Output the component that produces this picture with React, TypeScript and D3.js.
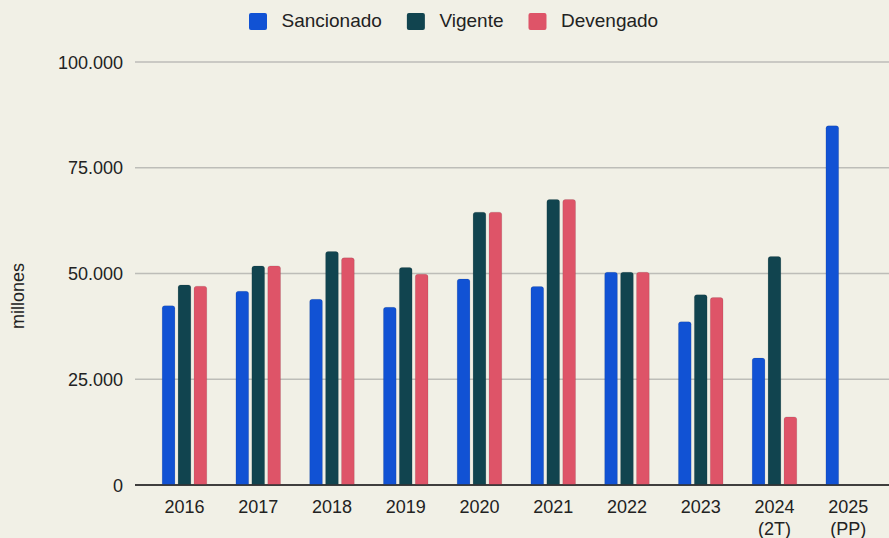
import React, { useEffect, useRef } from 'react';
import * as d3 from 'd3';

const categories = ['2016', '2017', '2018', '2019', '2020', '2021', '2022', '2023', '2024\n(2T)', '2025\n(PP)'];
const seriesNames = ['Sancionado', 'Vigente', 'Devengado'];
const sancionado = [42400, 45800, 43900, 42000, 48700, 46900, 50300, 38600, 30000, 84900];
const vigente: (number | null)[] = [47300, 51800, 55200, 51400, 64500, 67500, 50300, 45000, 54000, null];
const devengado: (number | null)[] = [47000, 51800, 53700, 49800, 64500, 67500, 50300, 44300, 16100, null];
const yTicks = [0, 25000, 50000, 75000, 100000];

const COLORS = ['#1152d4', '#11444f', '#de5468'];
const BG = '#f1f0e6';
const FONT = '"Liberation Sans", Arial, sans-serif';

export default function App() {
  const svgRef = useRef<SVGSVGElement>(null);
  const width = 889;
  const height = 538;

  useEffect(() => {
    if (!svgRef.current) return;
    const svg = d3.select(svgRef.current);
    svg.selectAll('*').remove();

    svg.append('rect').attr('width', width).attr('height', height).attr('fill', BG);

    const plotLeft = 135;
    const plotRight = 889;

    const x0 = d3.scaleBand<string>().domain(categories).range([147.6, 885.1]).padding(0);
    const x1 = d3
      .scaleBand<string>()
      .domain(seriesNames)
      .range([0, x0.bandwidth()])
      .paddingInner(0.2)
      .paddingOuter(0.915);
    const y = d3.scaleLinear().domain([0, 100000]).range([485, 62]);

    const locale = d3.formatLocale({ decimal: ',', thousands: '.', grouping: [3], currency: ['$', ''] });
    const fmt = locale.format(',');

    // grid lines + y labels
    const grid = svg.append('g');
    yTicks.forEach((t) => {
      grid
        .append('line')
        .attr('x1', plotLeft)
        .attr('x2', plotRight)
        .attr('y1', y(t))
        .attr('y2', y(t))
        .attr('stroke', t === 0 ? '#333' : '#bdbdb8')
        .attr('stroke-width', t === 0 ? 1.5 : 1.3);
      grid
        .append('text')
        .attr('x', 123)
        .attr('y', y(t) + 6.5)
        .attr('text-anchor', 'end')
        .attr('font-family', FONT)
        .attr('font-size', 18)
        .attr('fill', '#222')
        .text(fmt(t));
    });

    // axis title
    svg
      .append('text')
      .attr('transform', 'translate(24,296) rotate(-90)')
      .attr('text-anchor', 'middle')
      .attr('font-family', FONT)
      .attr('font-size', 18)
      .attr('fill', '#222')
      .text('millones');

    // bars
    const allSeries = [sancionado, vigente, devengado];
    const r = 2.5;
    const barPath = (bx: number, by: number, bw: number, bh: number) => {
      const rr = Math.min(r, bh / 2, bw / 2);
      return `M${bx},${by + bh}V${by + rr}Q${bx},${by} ${bx + rr},${by}H${bx + bw - rr}Q${bx + bw},${by} ${bx + bw},${by + rr}V${by + bh}Z`;
    };
    const bars = svg.append('g');
    categories.forEach((c, i) => {
      allSeries.forEach((s, j) => {
        const v = s[i];
        if (v == null) return;
        const bx = (x0(c) || 0) + (x1(seriesNames[j]) || 0);
        const by = y(v);
        bars
          .append('path')
          .attr('d', barPath(bx, by, x1.bandwidth(), y(0) - by))
          .attr('fill', COLORS[j])
          .attr('stroke', 'rgba(0,0,0,0.12)')
          .attr('stroke-width', 0.8);
      });
    });

    // redraw baseline on top
    svg
      .append('line')
      .attr('x1', plotLeft)
      .attr('x2', plotRight)
      .attr('y1', y(0))
      .attr('y2', y(0))
      .attr('stroke', '#333')
      .attr('stroke-width', 1.5);

    // x labels
    categories.forEach((c) => {
      const cx = (x0(c) || 0) + x0.bandwidth() / 2;
      const t = svg
        .append('text')
        .attr('text-anchor', 'middle')
        .attr('font-family', FONT)
        .attr('font-size', 18)
        .attr('fill', '#222');
      c.split('\n').forEach((line, k) => {
        t.append('tspan').attr('x', cx).attr('y', 512.5 + k * 22.5).text(line);
      });
    });

    // legend
    const legend = svg.append('g');
    let lx = 249;
    seriesNames.forEach((name, j) => {
      legend
        .append('rect')
        .attr('x', lx)
        .attr('y', 13)
        .attr('width', 18)
        .attr('height', 17)
        .attr('rx', 2)
        .attr('fill', COLORS[j]);
      const txt = legend
        .append('text')
        .attr('x', lx + 32.5)
        .attr('y', 26.5)
        .attr('font-family', FONT)
        .attr('font-size', 19)
        .attr('fill', '#222')
        .text(name);
      const w = (txt.node() as SVGTextElement).getComputedTextLength();
      lx = lx + 32.5 + w + 25;
    });
  }, []);

  return (
    <svg
      ref={svgRef}
      width={width}
      height={height}
      style={{ position: 'absolute', left: 0, top: 0, display: 'block' }}
    />
  );
}
